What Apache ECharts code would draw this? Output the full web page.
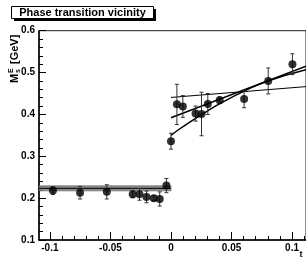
<!DOCTYPE html>
<html>
<head>
<meta charset="utf-8">
<script src="https://cdn.jsdelivr.net/npm/echarts@6/dist/echarts.min.js"></script>
<style>html,body{margin:0;padding:0;background:#fff}#c{width:306px;height:259px}</style>
</head>
<body>
<div id="c"></div>
<script>
// ---- data ----
const tBelow   = [-0.0975, -0.0751, -0.053, -0.0316, -0.026, -0.0202, -0.0142, -0.0093, -0.0038];
const mBelow   = [0.218, 0.213, 0.215, 0.209, 0.209, 0.203, 0.200, 0.198, 0.230];
const errBelow = [0.009, 0.015, 0.017, 0.008, 0.014, 0.014, 0.006, 0.017, 0.017];

const tAbove   = [0.0, 0.0049, 0.0098, 0.0203, 0.0252, 0.0304, 0.0402, 0.0604, 0.0803, 0.1003];
const mAbove   = [0.336, 0.424, 0.419, 0.402, 0.401, 0.425, 0.434, 0.437, 0.480, 0.520];
const errAbove = [0.019, 0.048, 0.026, 0.018, 0.052, 0.025, 0.008, 0.021, 0.031, 0.025];

const bandT = [-0.109, 0.0];
const bandCenter = 0.2234;
const bandHalf = 0.006;

const fitFlatT = [0.0, 0.1115];
const fitFlatM = [0.4406, 0.4664];
const fitLinT  = [0.0, 0.1115];
const fitLinM  = [0.392, 0.515];
const fitCurveT = [0.0, 0.005, 0.01, 0.02, 0.03, 0.04, 0.06, 0.08, 0.1115];
const fitCurveM = [0.350, 0.361, 0.371, 0.390, 0.408, 0.425, 0.455, 0.480, 0.507];

const xMajorTicks = [-0.1, -0.05, 0, 0.05, 0.1];
const xMinorTicks = [-0.09, -0.08, -0.07, -0.06, -0.04, -0.03, -0.02, -0.01, 0.01, 0.02, 0.03, 0.04, 0.06, 0.07, 0.08, 0.09, 0.11];
const yMin = 0.1, yMax = 0.6, yStep = 0.1;
const xMin = -0.109, xMax = 0.1115;

const titleText = 'Phase transition vicinity';
const xName = 't';

// ---- build ----
const FONT = '"Liberation Sans", Arial, Helvetica, sans-serif';
const zip = (a, b) => a.map((v, i) => [v, b[i]]);
const zip3 = (a, b, c) => a.map((v, i) => [v, b[i], c[i]]);

function errRender(params, api) {
  const x = api.value(0), y = api.value(1), e = api.value(2);
  const top = api.coord([x, y + e]);
  const bot = api.coord([x, y - e]);
  const w = 2;
  const st = { stroke: '#333', lineWidth: 1 };
  return {
    type: 'group',
    children: [
      { type: 'line', shape: { x1: top[0], y1: top[1], x2: bot[0], y2: bot[1] }, style: st },
      { type: 'line', shape: { x1: top[0] - w, y1: top[1], x2: top[0] + w, y2: top[1] }, style: st },
      { type: 'line', shape: { x1: bot[0] - w, y1: bot[1], x2: bot[0] + w, y2: bot[1] }, style: st }
    ]
  };
}

function bandRender(params, api) {
  const x0 = api.value(0), x1 = api.value(1), c = api.value(2), h = api.value(3);
  const p0 = api.coord([x0, c + h]);
  const p1 = api.coord([x1, c - h]);
  return {
    type: 'rect',
    shape: { x: p0[0], y: p0[1], width: p1[0] - p0[0], height: p1[1] - p0[1] },
    style: { fill: '#8c8c8c', stroke: '#555', lineWidth: 0.6 }
  };
}

const chart = echarts.init(document.getElementById('c'), null, { renderer: 'canvas' });
chart.setOption({
  animation: false,
  backgroundColor: '#fff',
  grid: { left: 39, top: 30.7, right: -2, bottom: 19, show: true, borderColor: '#222', borderWidth: 1, backgroundColor: 'transparent' },
  xAxis: [
    {
      type: 'value', min: xMin, max: xMax,
      axisLine: { show: true, onZero: false, lineStyle: { color: '#000', width: 1.5 } },
      axisTick: { show: true, inside: true, length: 8, customValues: xMajorTicks, lineStyle: { color: '#000', width: 1 } },
      axisLabel: { show: true, customValues: xMajorTicks, margin: 3, color: '#000', fontFamily: FONT, fontWeight: 'bold', fontSize: 10,
        formatter: v => String(Math.round(v * 1000) / 1000) },
      splitLine: { show: false }
    },
    {
      type: 'value', min: xMin, max: xMax, position: 'bottom',
      axisLine: { show: false },
      axisTick: { show: true, inside: true, length: 4, customValues: xMinorTicks, lineStyle: { color: '#000', width: 1 } },
      axisLabel: { show: false },
      splitLine: { show: false }
    }
  ],
  yAxis: {
    type: 'value', min: yMin, max: yMax, interval: yStep,
    axisLine: { show: true, onZero: false, lineStyle: { color: '#000', width: 1.5 } },
    axisTick: { show: true, inside: true, length: 7, lineStyle: { color: '#000', width: 1 } },
    minorTick: { show: true, splitNumber: 5, length: 4, lineStyle: { color: '#000', width: 1 } },
    axisLabel: { margin: 4, color: '#000', fontFamily: FONT, fontWeight: 'bold', fontSize: 10,
      formatter: v => String(Math.round(v * 10) / 10) },
    splitLine: { show: false }
  },
  series: [
    { type: 'custom', renderItem: bandRender, data: [[bandT[0], bandT[1], bandCenter, bandHalf]],
      encode: { x: [0, 1], y: 2 }, silent: true, clip: true, z: 1 },
    { type: 'line', data: bandT.map(t => [t, bandCenter]), symbol: 'none', lineStyle: { color: '#000', width: 1 }, z: 2 },
    { type: 'line', data: zip(fitFlatT, fitFlatM), symbol: 'none', lineStyle: { color: '#000', width: 1 }, z: 3, clip: true },
    { type: 'line', data: zip(fitLinT, fitLinM), symbol: 'none', lineStyle: { color: '#000', width: 1.5 }, z: 3, clip: true },
    { type: 'line', data: zip(fitCurveT, fitCurveM), symbol: 'none', smooth: true, lineStyle: { color: '#000', width: 1.5 }, z: 3, clip: true },
    { type: 'custom', renderItem: errRender, data: zip3(tBelow, mBelow, errBelow), encode: { x: 0, y: 1 }, z: 4 },
    { type: 'custom', renderItem: errRender, data: zip3(tAbove, mAbove, errAbove), encode: { x: 0, y: 1 }, z: 4 },
    { type: 'scatter', data: zip(tBelow, mBelow), symbol: 'circle', symbolSize: 8, itemStyle: { color: '#000' }, z: 5 },
    { type: 'scatter', data: zip(tAbove, mAbove), symbol: 'circle', symbolSize: 8, itemStyle: { color: '#000' }, z: 5 }
  ],
  graphic: [
    { type: 'rect', shape: { x: 14, y: 9, width: 142, height: 12 }, style: { fill: '#000' }, z: 10 },
    { type: 'rect', shape: { x: 11.5, y: 6.5, width: 142, height: 12 }, style: { fill: '#fff', stroke: '#000', lineWidth: 1 }, z: 11 },
    { type: 'text', x: 82.5, y: 13, style: { text: titleText, font: 'bold 11px ' + FONT, fill: '#000', align: 'center', verticalAlign: 'middle' }, z: 12 },
    { type: 'text', x: 301, y: 255, style: { text: xName, font: 'bold 9px ' + FONT, fill: '#000', align: 'center', verticalAlign: 'middle' }, z: 12 },
    {
      type: 'group', x: 15, y: 83, rotation: Math.PI / 2, z: 12,
      children: [
        { type: 'text', x: 0, y: 0, style: { text: 'M', font: 'bold 11px ' + FONT, fill: '#000', align: 'left', verticalAlign: 'middle' } },
        { type: 'text', x: 10, y: -3.5, style: { text: 'E', font: 'bold 7px ' + FONT, fill: '#000', align: 'left', verticalAlign: 'middle' } },
        { type: 'text', x: 10, y: 3.5, style: { text: 's', font: 'bold 7px ' + FONT, fill: '#000', align: 'left', verticalAlign: 'middle' } },
        { type: 'text', x: 19, y: 0, style: { text: '[GeV]', font: 'bold 11px ' + FONT, fill: '#000', align: 'left', verticalAlign: 'middle' } }
      ]
    }
  ]
});
</script>
</body>
</html>
